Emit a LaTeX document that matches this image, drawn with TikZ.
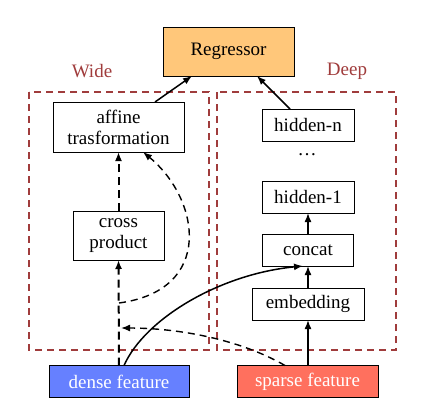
\documentclass[tikz,border=0pt]{standalone}
\usepackage{fontspec}
\setmainfont{Liberation Serif}
\newfontfamily\diagfont{Liberation Serif}
\usepackage{tikz}
\usetikzlibrary{positioning}
\usetikzlibrary{arrows.meta}

\definecolor{regfill}{RGB}{255,199,122}
\definecolor{densefill}{RGB}{102,128,255}
\definecolor{sparsefill}{RGB}{255,112,94}
\definecolor{framered}{RGB}{160,60,60}

\begin{document}
\begin{tikzpicture}[
        x=1pt, y=1pt,
        box/.style = {
            draw,
            line width=0.8pt,
            fill=white,
            minimum width = #1,
            minimum height = 32pt,
            inner sep = 0pt,
            outer sep = 0pt,
            align=center,
            font=\diagfont\fontsize{19}{21}\selectfont
        },
        box/.default = 92pt,
        frame/.style = {draw=framered, line width=1.9pt, dash pattern=on 7pt off 5pt},
        flow/.style = {line width=1.5pt, -{Latex[length=9pt,width=7pt]}},
        wideflow/.style = {line width=2pt, dash pattern=on 8pt off 5pt, -{Latex[length=9pt,width=7pt]}},
        thinflow/.style = {line width=1.4pt, dash pattern=on 7pt off 5pt, -{Latex[length=9pt,width=7pt]}},
        node distance = {22pt}
    ]
    \useasboundingbox (0,0) rectangle (427,-413);

    % frames
    \draw[frame] (29,-92) rectangle (209,-350);
    \draw[frame] (217,-92) rectangle (396,-350);
    \node[text=framered, font=\diagfont\fontsize{19}{21}\selectfont] (widelbl) at (92,-71) {Wide};
    \node[text=framered, font=\diagfont\fontsize{19}{21}\selectfont] (deeplbl) at (347,-71) {Deep};

    \node[box=131pt, minimum height=49pt, fill=regfill] (reg) at (228.5,-51.5) {Regressor};

    % wide part
    \node[box=131pt, minimum height=50pt] (affine) at (118.5,-127) {affine\\trasformation};
    \node[box=91pt, minimum height=49pt] (cross) [below=59pt of affine] {cross\\product};

    % deep part
    \node[box] (hidn) at (308,-125) {hidden-n};
    \node[box] (hid1) [below=40pt of hidn] {hidden-1};
    \node[font=\diagfont\fontsize{19}{21}\selectfont] (dots) at (307,-155) {\dots};
    \node[box=91pt] (concat) [below=21pt of hid1] {concat};
    \node[box=112pt] (embed) [below=22pt of concat] {embedding};

    % inputs
    \node[box=140pt, fill=densefill, text=white] (dense) at (119,-381.5) {dense feature};
    \node[box=141pt, fill=sparsefill, text=white] (sparse) [right=48pt of dense] {sparse feature};

    \coordinate (branch) at (119,-303);
    \coordinate (merge) at (121,-328);

    \draw[flow] ([xshift=36.5pt]affine.north) -- ([xshift=-36.5pt]reg.south);
    \draw[flow] ([xshift=-18pt]hidn.north) -- ([xshift=28.5pt]reg.south);

    \draw[wideflow] (dense.north) -- (cross.south);
    \draw[wideflow] (cross.north) -- (affine.south);
    \draw[thinflow] (branch) .. controls +(96,13) and +(57,-47) .. ([xshift=24.5pt]affine.south);
    \draw[thinflow] ([xshift=-22.5pt]sparse.north) .. controls +(-45,26) and +(58,0) .. (merge);
    \draw[flow] ([xshift=5pt]dense.north) .. controls +(21,47) and +(-83,-8) .. ([xshift=-5pt]concat.south);

    \draw[flow] (sparse.north -| embed.south) -- (embed.south);
    \draw[flow] (embed) -- (concat);
    \draw[flow] (concat) -- (hid1);

\end{tikzpicture}
\end{document}
